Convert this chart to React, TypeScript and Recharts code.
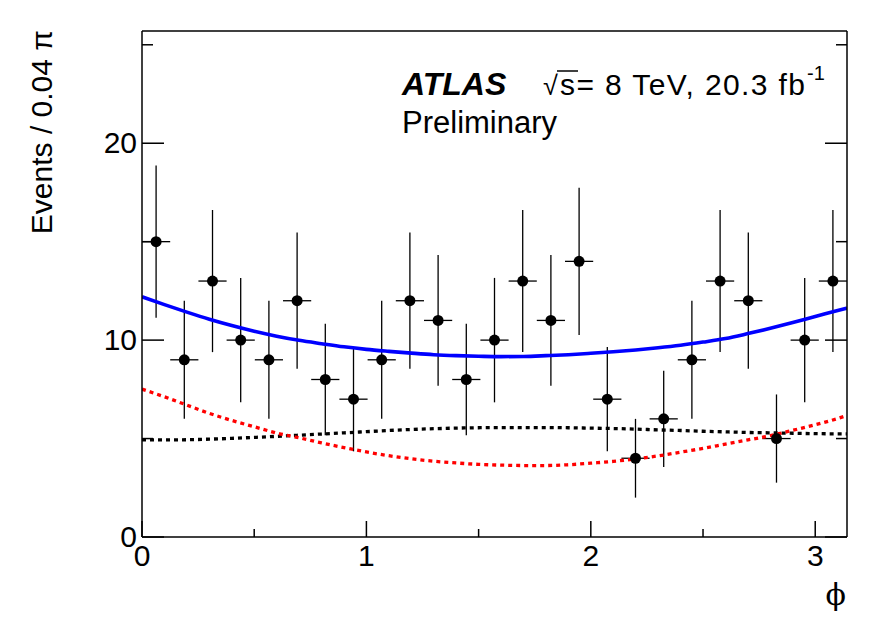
import React from 'react';
import { ComposedChart, XAxis, YAxis, Scatter, Line, ErrorBar } from 'recharts';

// ---- data ----
const phiCenters = [
  0.0628, 0.1885, 0.3142, 0.4398, 0.5655, 0.6912, 0.8168, 0.9425, 1.0681, 1.1938,
  1.3195, 1.4451, 1.5708, 1.6965, 1.8221, 1.9478, 2.0735, 2.1991, 2.3248, 2.4504,
  2.5761, 2.7018, 2.8274, 2.9531, 3.0788,
];
const counts = [15, 9, 13, 10, 9, 12, 8, 7, 9, 12, 11, 8, 10, 13, 11, 14, 7, 4, 6, 9, 13, 12, 5, 10, 13];
const countErrors = [
  3.87, 3.0, 3.61, 3.16, 3.0, 3.46, 2.83, 2.65, 3.0, 3.46, 3.32, 2.83, 3.16, 3.61, 3.32,
  3.74, 2.65, 2.0, 2.45, 3.0, 3.61, 3.46, 2.24, 3.16, 3.61,
];
const binHalfWidth = 0.0628;

const curvePhi = [
  0, 0.1, 0.2, 0.3, 0.4, 0.5, 0.6, 0.7, 0.8, 0.9, 1.0, 1.1, 1.2, 1.3, 1.4, 1.5, 1.6,
  1.7, 1.8, 1.9, 2.0, 2.1, 2.2, 2.3, 2.4, 2.5, 2.6, 2.7, 2.8, 2.9, 3.0, 3.1, 3.1416,
];
const totalFit = [
  12.2, 11.8, 11.42, 11.06, 10.74, 10.45, 10.2, 9.99, 9.82, 9.66, 9.53, 9.43, 9.34, 9.26,
  9.21, 9.18, 9.16, 9.17, 9.21, 9.26, 9.33, 9.41, 9.5, 9.61, 9.74, 9.9, 10.08, 10.33, 10.6,
  10.89, 11.2, 11.5, 11.63,
];
const redComponent = [
  7.51, 7.12, 6.7, 6.28, 5.92, 5.6, 5.28, 5.04, 4.78, 4.54, 4.32, 4.13, 3.97, 3.85, 3.76,
  3.69, 3.65, 3.63, 3.63, 3.67, 3.75, 3.84, 3.97, 4.12, 4.31, 4.5, 4.72, 4.93, 5.15, 5.42,
  5.7, 6.02, 6.18,
];
const blackComponent = [
  4.93, 4.93, 4.94, 4.97, 5.01, 5.06, 5.11, 5.17, 5.23, 5.29, 5.35, 5.41, 5.46, 5.5, 5.53,
  5.55, 5.56, 5.56, 5.56, 5.55, 5.53, 5.51, 5.48, 5.44, 5.41, 5.37, 5.34, 5.31, 5.29, 5.27,
  5.25, 5.24, 5.24,
];

const xTicks = [0, 0.5, 1, 1.5, 2, 2.5, 3];
const yTicks = [0, 5, 10, 15, 20, 25];
const xDomain: [number, number] = [0, 3.1416];
const yDomain: [number, number] = [0, 25.7];

const points = phiCenters.map((x, i) => ({ x, y: counts[i], ey: countErrors[i], ex: binHalfWidth }));
const mk = (vals: number[]) => curvePhi.map((x, i) => ({ x, v: vals[i] }));
const totalData = mk(totalFit);
const redData = mk(redComponent);
const blackData = mk(blackComponent);

const FONT = '"Liberation Sans", Arial, Helvetica, sans-serif';
const isMajor = (v: number) => Math.abs(v - Math.round(v)) < 1e-6;
const isMajorY = (v: number) => v % 10 === 0;

function BottomTick(props: any) {
  const { x, y, payload } = props;
  const v = payload.value;
  const major = isMajor(v);
  return (
    <g>
      <line x1={x} x2={x} y1={y} y2={y - (major ? 16 : 8)} stroke="#000" strokeWidth={1.5} />
      {major && (
        <text x={x} y={y + 29} textAnchor="middle" fontSize={30} fontFamily={FONT} fill="#000">
          {v}
        </text>
      )}
    </g>
  );
}
function TopTick(props: any) {
  const { x, y, payload } = props;
  const major = isMajor(payload.value);
  return <line x1={x} x2={x} y1={y} y2={y + (major ? 16 : 8)} stroke="#000" strokeWidth={1.5} />;
}
function LeftTick(props: any) {
  const { x, y, payload } = props;
  const v = payload.value;
  const major = isMajorY(v);
  return (
    <g>
      <line x1={x} x2={x + (major ? 22 : 11)} y1={y} y2={y} stroke="#000" strokeWidth={1.5} />
      {major && (
        <text x={x - 5} y={y + 10} textAnchor="end" fontSize={30} fontFamily={FONT} fill="#000">
          {v}
        </text>
      )}
    </g>
  );
}
function RightTick(props: any) {
  const { x, y, payload } = props;
  const major = isMajorY(payload.value);
  return <line x1={x} x2={x - (major ? 22 : 11)} y1={y} y2={y} stroke="#000" strokeWidth={1.5} />;
}

const Marker = (p: any) => <circle cx={p.cx} cy={p.cy} r={5.5} fill="#000" />;

export default function App() {
  const axisLine = { stroke: '#000', strokeWidth: 1.5 };
  return (
    <div style={{ position: 'absolute', left: 0, top: 0, width: 891, height: 639, background: '#fff' }}>
      <ComposedChart width={891} height={639} margin={{ top: 30, right: 43, bottom: 101, left: 141 }}>
        <XAxis
          xAxisId="b"
          dataKey="x"
          type="number"
          domain={xDomain}
          ticks={xTicks}
          interval={0}
          height={1}
          tickSize={0}
          tickMargin={0}
          tickLine={false}
          tick={BottomTick}
          axisLine={axisLine}
          allowDataOverflow
        />
        <XAxis
          xAxisId="t"
          orientation="top"
          type="number"
          domain={xDomain}
          ticks={xTicks}
          interval={0}
          height={1}
          tickSize={0}
          tickMargin={0}
          tickLine={false}
          tick={TopTick}
          axisLine={axisLine}
          allowDataOverflow
        />
        <YAxis
          yAxisId="l"
          type="number"
          domain={yDomain}
          ticks={yTicks}
          interval={0}
          width={1}
          tickSize={0}
          tickMargin={0}
          tickLine={false}
          tick={LeftTick}
          axisLine={axisLine}
          allowDataOverflow
        />
        <YAxis
          yAxisId="r"
          orientation="right"
          type="number"
          domain={yDomain}
          ticks={yTicks}
          interval={0}
          width={1}
          tickSize={0}
          tickMargin={0}
          tickLine={false}
          tick={RightTick}
          axisLine={axisLine}
          allowDataOverflow
        />
        <Scatter
          xAxisId="b"
          yAxisId="l"
          data={points}
          dataKey="y"
          shape={Marker}
          isAnimationActive={false}
        >
          <ErrorBar dataKey="ey" direction="y" width={0} stroke="#000" strokeWidth={1.3} />
          <ErrorBar dataKey="ex" direction="x" width={0} stroke="#000" strokeWidth={1.3} />
        </Scatter>
        <Line
          xAxisId="b"
          yAxisId="l"
          data={blackData}
          dataKey="v"
          type="monotone"
          dot={false}
          stroke="#000"
          strokeWidth={3.3}
          strokeDasharray="4 4"
          isAnimationActive={false}
        />
        <Line
          xAxisId="b"
          yAxisId="l"
          data={redData}
          dataKey="v"
          type="monotone"
          dot={false}
          stroke="#ff0000"
          strokeWidth={3.3}
          strokeDasharray="4 4"
          isAnimationActive={false}
        />
        <Line
          xAxisId="b"
          yAxisId="l"
          data={totalData}
          dataKey="v"
          type="monotone"
          dot={false}
          stroke="#0000ff"
          strokeWidth={3.6}
          isAnimationActive={false}
        />
      </ComposedChart>
      <svg width={891} height={639} style={{ position: 'absolute', left: 0, top: 0, pointerEvents: 'none' }}>
        <text x={402} y={95} fontSize={32} fontWeight="bold" fontStyle="italic" fontFamily={FONT} fill="#000">
          ATLAS
        </text>
        <text x={543} y={95} fontSize={27} fontFamily={FONT} fill="#000">
          √
        </text>
        <line x1={557} x2={578} y1={71} y2={71} stroke="#000" strokeWidth={1.5} />
        <text x={560} y={95} fontSize={30} fontFamily={FONT} fill="#000" textLength={245} lengthAdjust="spacing">
          s= 8 TeV, 20.3 fb
        </text>
        <text x={807} y={80} fontSize={20} fontFamily={FONT} fill="#000">
          -1
        </text>
        <text x={402} y={133} fontSize={31} fontFamily={FONT} fill="#000">
          Preliminary
        </text>
        <text
          transform="translate(52,30) rotate(-90)"
          x={0}
          y={0}
          textAnchor="end"
          fontSize={30}
          fontFamily={FONT}
          fill="#000"
        >
          Events / 0.04 π
        </text>
        <text x={846} y={605} textAnchor="end" fontSize={30} fontFamily='"DejaVu Serif", serif' fill="#000">
          ϕ
        </text>
      </svg>
    </div>
  );
}
